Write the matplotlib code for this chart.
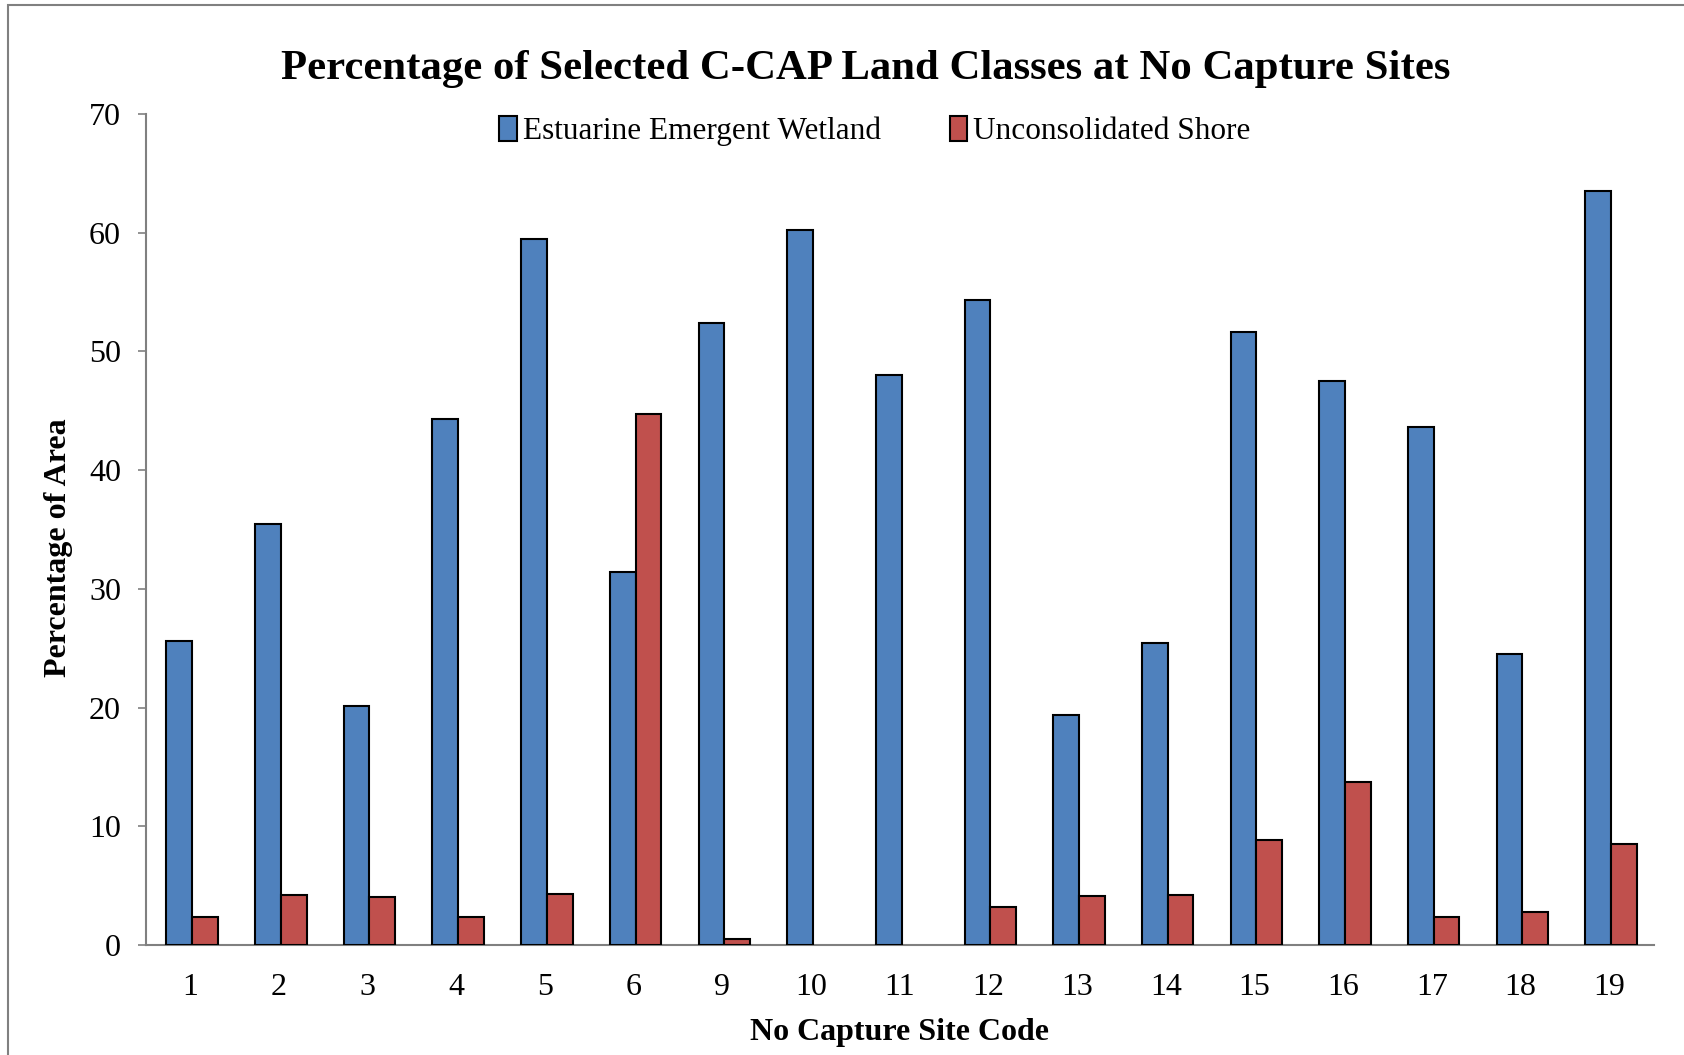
import matplotlib
matplotlib.use("Agg")
import matplotlib.pyplot as plt
import numpy as np
from matplotlib.patches import Rectangle

sites = ["1", "2", "3", "4", "5", "6", "9", "10", "11", "12", "13", "14", "15", "16", "17", "18", "19"]
estuarine = [25.6, 35.5, 20.1, 44.3, 59.5, 31.4, 52.4, 60.2, 48.0, 54.3, 19.4, 25.4, 51.6, 47.5, 43.6, 24.5, 63.5]
shore = [2.35, 4.25, 4.0, 2.35, 4.3, 44.7, 0.5, 0.0, 0.0, 3.2, 4.1, 4.2, 8.8, 13.7, 2.35, 2.8, 8.5]
yticks = [0, 10, 20, 30, 40, 50, 60, 70]

plt.rcParams['font.family'] = ['Liberation Serif', 'DejaVu Serif']

fig = plt.figure(figsize=(16.84, 10.55), dpi=100)
ax = fig.add_axes([0.0867, 0.1043, 0.8953, 0.7877])

x = np.arange(len(sites))
w = 0.29
blue = '#4F81BD'
red = '#C0504D'
b1 = ax.bar(x - w/2 + 0.02, estuarine, width=w, color=blue, edgecolor='black', linewidth=1.5, label='Estuarine Emergent Wetland', zorder=3)
b2 = ax.bar(x + w/2 + 0.02, shore, width=w, color=red, edgecolor='black', linewidth=1.5, label='Unconsolidated Shore', zorder=3)
for p in list(b1) + list(b2):
    if p.get_height() == 0:
        p.set_linewidth(0)

ax.set_xlim(-0.5, len(sites) - 0.5)
ax.set_ylim(0, 70)
ax.set_yticks(yticks)
ax.set_yticklabels([str(t) for t in yticks], fontsize=23)
ax.set_xticks(x)
ax.set_xticklabels(sites, fontsize=23)
ax.tick_params(axis='x', length=0, pad=20)
ax.tick_params(axis='y', length=6, color='#808080', width=1.2, pad=12)

for s in ['top', 'right']:
    ax.spines[s].set_visible(False)
for s in ['left', 'bottom']:
    ax.spines[s].set_color('#808080')
    ax.spines[s].set_linewidth(1.5)

ax.set_xlabel('No Capture Site Code', fontsize=23, fontweight='bold', labelpad=12)
ax.set_ylabel('Percentage of Area', fontsize=23, fontweight='bold')
ax.yaxis.set_label_coords(-0.0485, 0.478)

fig.suptitle('Percentage of Selected C-CAP Land Classes at No Capture Sites', fontsize=30.8, fontweight='bold', x=0.514, y=0.953)

leg = ax.legend(loc='center', bbox_to_anchor=(0.5195, 0.876), bbox_transform=fig.transFigure,
                ncol=2, frameon=False, fontsize=22.5, handlelength=0.55, handleheight=0.85,
                handletextpad=0.2, columnspacing=2.2)

fig.patches.append(Rectangle((8/1684, -0.1), 1.2, 1.1 - 5/1055, transform=fig.transFigure,
                             fill=False, edgecolor='#808080', linewidth=1.5))

fig.savefig('out.png', dpi=100)
